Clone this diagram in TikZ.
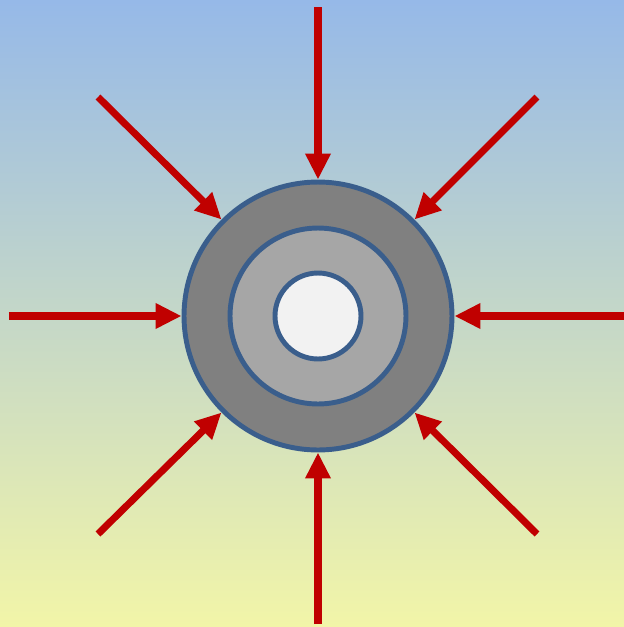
\documentclass[tikz,border=0pt]{standalone}
\usepackage{tikz}
\usetikzlibrary{arrows.meta}
\definecolor{SkyTop}{RGB}{150,185,232}
\definecolor{SandBottom}{RGB}{242,245,168}
\definecolor{RimBlue}{RGB}{58,94,140}
\definecolor{PushRed}{RGB}{192,0,0}
\definecolor{DarkShell}{RGB}{128,128,128}
\definecolor{MidShell}{RGB}{166,166,166}
\definecolor{CoreWhite}{RGB}{242,242,242}
\tikzset{
  shell/.style={draw=RimBlue, line width=2.8pt, circle, inner sep=0pt},
  push/.style={draw=PushRed, line width=4pt, -{Triangle[length=0.52cm, width=0.48cm]}}
}

\begin{document}
\begin{tikzpicture}[x=0.02cm, y=-0.02cm]
            % Background
            \shade[top color=SkyTop, bottom color=SandBottom] (0,0) rectangle (624,627);
            \useasboundingbox (0,0) rectangle (624,627);
            
            % Circles
            \node[shell, fill=DarkShell, minimum size=5.36cm] (outer) at (318,316) {};
            \node[shell, fill=MidShell, minimum size=3.52cm] (middle) at (318,316) {};
            \node[shell, fill=CoreWhite, minimum size=1.72cm] (core) at (318,316) {};
            
            % Start points
            \coordinate (n) at (318,7);
            \coordinate (s) at (318,624);
            \coordinate (w) at (9,316);
            \coordinate (e) at (624,316);
            \coordinate (nw) at (98,97);
            \coordinate (ne) at (537,97);
            \coordinate (sw) at (98,534);
            \coordinate (se) at (537,534);
            
            % Arrows
            \draw[push] (n) -- (outer.north);
            \draw[push] (s) -- (outer.south);
            \draw[push] (w) -- (outer.west);
            \draw[push] (e) -- (outer.east);
            \draw[push] (nw) -- (outer.north west);
            \draw[push] (ne) -- (outer.north east);
            \draw[push] (sw) -- (outer.south west);
            \draw[push] (se) -- (outer.south east);
        \end{tikzpicture}
\end{document}
